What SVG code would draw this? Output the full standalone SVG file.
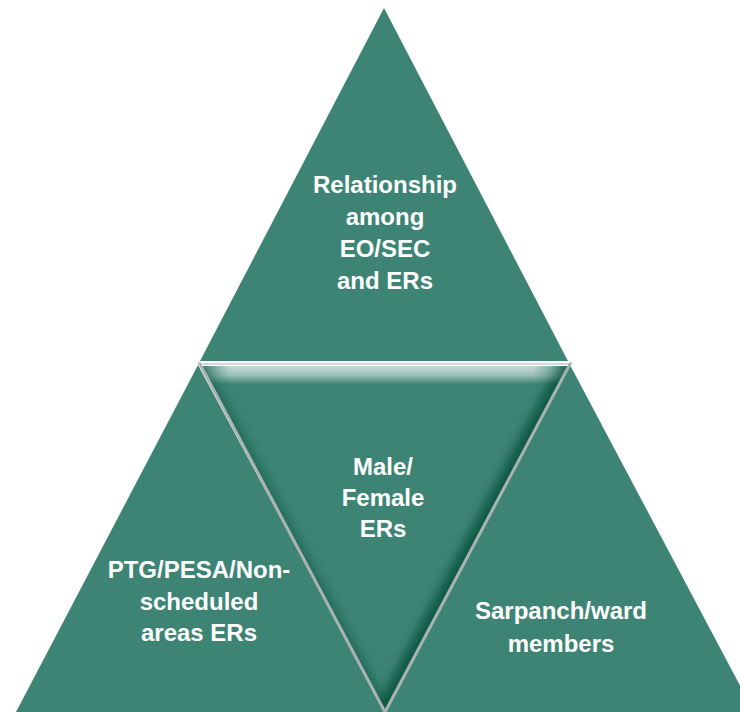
<svg xmlns="http://www.w3.org/2000/svg" width="740" height="712" viewBox="0 0 740 712">
<style>
.tri{fill:#3d8474;}
.lbl{font-family:"Liberation Sans",Arial,sans-serif;font-weight:bold;font-size:24px;fill:#ffffff;text-anchor:middle;}
</style>
<defs>
<clipPath id="cc"><polygon points="200,364 570,364 385,712"/></clipPath>
<filter id="blur" x="-20%" y="-20%" width="140%" height="140%"><feGaussianBlur stdDeviation="5"/></filter>
<linearGradient id="hl" x1="0" y1="0" x2="0" y2="1">
<stop offset="0" stop-color="#ffffff" stop-opacity="0.7"/>
<stop offset="0.5" stop-color="#ffffff" stop-opacity="0.5"/>
<stop offset="1" stop-color="#ffffff" stop-opacity="0"/>
</linearGradient>
<linearGradient id="hlx" x1="0" y1="0" x2="1" y2="0">
<stop offset="0" stop-color="#ffffff" stop-opacity="0"/>
<stop offset="0.08" stop-color="#ffffff" stop-opacity="1"/>
<stop offset="0.9" stop-color="#ffffff" stop-opacity="1"/>
<stop offset="1" stop-color="#ffffff" stop-opacity="0"/>
</linearGradient>
<mask id="hm"><rect x="200" y="364" width="370" height="24" fill="url(#hlx)"/></mask>
</defs>
<rect width="740" height="712" fill="#ffffff"/>
<g id="connectors"/>
<g id="node-top">
<polygon class="tri" points="384,8 200,361 568,361"/>
<text class="lbl" x="385" y="193">Relationship</text>
<text class="lbl" x="385" y="225">among</text>
<text class="lbl" x="385" y="257">EO/SEC</text>
<text class="lbl" x="385" y="289">and ERs</text>
</g>
<g id="node-left">
<polygon class="tri" points="198,365 16,712 385,712"/>
<text class="lbl" x="199" y="578">PTG/PESA/Non-</text>
<text class="lbl" x="199" y="610">scheduled</text>
<text class="lbl" x="199" y="641">areas ERs</text>
</g>
<g id="node-right">
<polygon class="tri" points="570,365 385,712 754,712"/>
<text class="lbl" x="561" y="619">Sarpanch/ward</text>
<text class="lbl" x="561" y="652">members</text>
</g>
<g id="node-center">
<polygon class="tri" points="200,364 570,364 385,712"/>
<g clip-path="url(#cc)">
<polyline points="200,364 385,712" fill="none" stroke="#034d38" stroke-width="12" filter="url(#blur)" opacity="0.45"/>
<polyline points="570,364 385,712" fill="none" stroke="#034d38" stroke-width="20" filter="url(#blur)" opacity="0.75"/>
<rect x="200" y="366" width="370" height="18" fill="url(#hl)" mask="url(#hm)"/>
</g>
<polygon points="200,364 570,364 385,712" fill="none" stroke="#aab3b2" stroke-width="3" stroke-linejoin="miter"/>
<line x1="201" y1="362.8" x2="569" y2="362.8" stroke="#ffffff" stroke-width="1.4"/>
<line x1="202" y1="365.3" x2="568" y2="365.3" stroke="#ffffff" stroke-width="1.4"/>
<text class="lbl" x="383" y="475">Male/</text>
<text class="lbl" x="383" y="506">Female</text>
<text class="lbl" x="383" y="537">ERs</text>
</g>
</svg>
